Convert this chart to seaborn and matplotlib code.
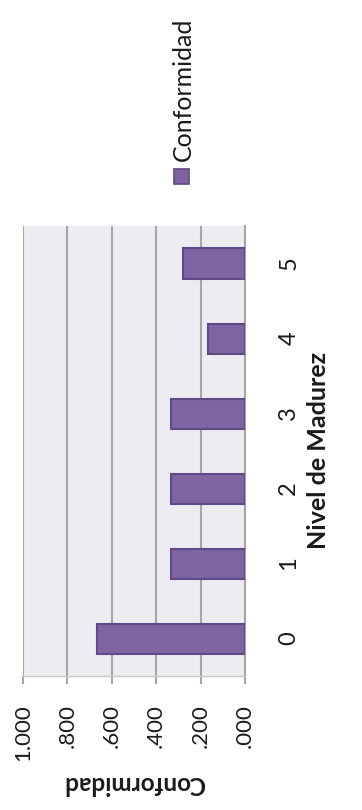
import matplotlib
matplotlib.use("Agg")
import matplotlib.pyplot as plt
from matplotlib.patches import Rectangle
import seaborn as sns
import pandas as pd

# Data
niveles = ["0", "1", "2", "3", "4", "5"]
conformidad = [0.667, 0.333, 0.333, 0.333, 0.167, 0.278]
value_ticks = [1.0, 0.8, 0.6, 0.4, 0.2, 0.0]
value_tick_labels = ["1.000", ".800", ".600", ".400", ".200", ".000"]
series_name = "Conformidad"
cat_title = "Nivel de Madurez"
val_title = "Conformidad"

df = pd.DataFrame({"Nivel": niveles, "Conformidad": conformidad})

sns.set_theme(style="white")
plt.rcParams["font.family"] = ["Lato", "DejaVu Sans"]

W, H = 362, 810
fig = plt.figure(figsize=(W / 100, H / 100), dpi=100)
fig.patch.set_facecolor("white")

left, right, top, bottom = 23, 245, 226, 676
ax = fig.add_axes([left / W, 1 - bottom / H, (right - left) / W, (bottom - top) / H])
ax.set_facecolor("#EDECF2")

bar_color = "#8064A2"
sns.barplot(data=df, x="Conformidad", y="Nivel", order=niveles, orient="h",
            color=bar_color, saturation=1, width=0.4, ax=ax,
            edgecolor="#5E4A84", linewidth=1.5, zorder=3)

ax.set_xlim(1.0, 0.0)
ax.set_ylim(-0.5, 5.5)

ax.set_xticks(value_ticks)
ax.set_xticklabels(value_tick_labels, rotation=90, ha="center", va="top", fontsize=16, color="#1a1a1a")
ax.tick_params(axis="x", direction="out", length=6, width=1.5, color="#A6A6A6", pad=14, bottom=True)

ax.yaxis.tick_right()
ax.set_yticks(range(len(niveles)))
ax.set_yticklabels(niveles, rotation=90, fontsize=17, color="#1a1a1a", va="center")
ax.tick_params(axis="y", length=0, pad=24)

ax.grid(axis="x", color="#A6A6A6", linewidth=1.5, zorder=0)
ax.grid(axis="y", visible=False)
ax.set_axisbelow(True)

for s in ["top", "left"]:
    ax.spines[s].set_visible(False)
ax.spines["right"].set_color("#A6A6A6")
ax.spines["right"].set_linewidth(1.5)
ax.spines["bottom"].set_color("#C8C8C8")
ax.spines["bottom"].set_linewidth(1.0)

ax.set_xlabel("")
ax.set_ylabel("")

fig.text(319 / W, 1 - 450 / H, cat_title, rotation=90, ha="center", va="center",
         fontsize=18, fontweight="bold", color="#1a1a1a")
fig.text(134 / W, 1 - 784 / H, val_title, rotation=180, ha="center", va="center",
         fontsize=17.5, fontweight="bold", color="#1a1a1a")

# Legend (rotated)
fig.patches.append(Rectangle((174 / W, 1 - 184 / H), 15 / W, 15 / H, transform=fig.transFigure,
                             facecolor=bar_color, edgecolor="#5E4A84", linewidth=1.2))
fig.text(183 / W, 1 - 161 / H, series_name, rotation=90, ha="center", va="bottom",
         fontsize=18, color="#1a1a1a")

fig.savefig("out.png", dpi=100)
